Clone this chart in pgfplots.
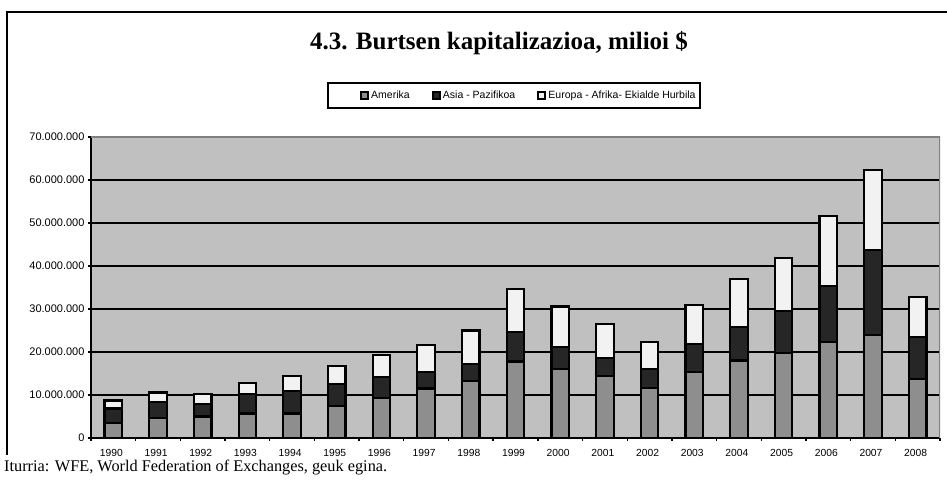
\documentclass[border=0pt]{standalone}
\usepackage{fontspec}
\setmainfont{Liberation Sans}
\newfontfamily\timesfont{Liberation Serif}
\usepackage{pgfplots}
\usepackage{pgfplotstable}
\pgfplotsset{compat=1.18}

\definecolor{plotbg}{HTML}{C0C0C0}
\definecolor{amer}{HTML}{8E8E8E}
\definecolor{asia}{HTML}{262626}
\definecolor{euro}{HTML}{F2F2F2}

\newcommand\yr[1]{\fontsize{10.3}{12}\selectfont #1}

% legend-ikurra, lehenengoak ezkerrean tarte handiagoa du
\pgfplotsset{
    padlegend/.style={
        legend image code/.code={
            \path (-30pt,0pt);
            \draw[##1, draw=black, line width=2.2pt] (0pt,-3.5pt) rectangle (7pt,3.5pt);
        }
    }
}

% milioi $ -- Amerika, Asia-Pazifikoa, Europa-Afrika-Ekialde Hurbila
\pgfplotstableread{
idx year amerika asia europa
0  1990 3500000  3350000  1850000
1  1991 4600000  3700000  2300000
2  1992 5000000  2900000  2300000
3  1993 5700000  4500000  2600000
4  1994 5700000  5300000  3400000
5  1995 7500000  5100000  4100000
6  1996 9300000  4900000  5100000
7  1997 11500000 3800000  6300000
8  1998 13300000 3900000  7800000
9  1999 17800000 6900000  10000000
10 2000 16000000 5100000  9500000
11 2001 14500000 4100000  7900000
12 2002 11600000 4500000  6200000
13 2003 15300000 6600000  9100000
14 2004 18000000 7800000  11200000
15 2005 19800000 9800000  12300000
16 2006 22300000 13000000 16300000
17 2007 23900000 19900000 18600000
18 2008 13700000 9800000  9300000
}\capdata

\begin{document}
\begin{tikzpicture}
    \path[use as bounding box] (0pt,0pt) rectangle (947pt,481pt);
    % kanpoko markoa
    \draw[line width=1.8pt] (7pt,26pt) -- (7pt,469pt) -- (947pt,469pt);
    \node[anchor=base, font=\timesfont\bfseries\fontsize{25}{28}\selectfont]
        at (499pt,431pt) {4.3. Burtsen kapitalizazioa, milioi \$};
    \node[anchor=base west, inner sep=0pt, font=\timesfont\fontsize{16.3}{18}\selectfont]
        at (4pt,9pt) {Iturria: WFE, World Federation of Exchanges, geuk egina.};
    \begin{axis}[
        at={(91pt,43pt)}, anchor=south west,
        scale only axis,
        width=849pt, height=301pt,
        %
        ybar stacked,
        bar width=17.5pt,
        %
        xmin=-0.5, xmax=18.5,
        ymin=0, ymax=70000000,
        ytick distance=10000000,
        scaled y ticks=false,
        %
        xtick={0,...,18},
        xticklabels={\yr{1990},\yr{1991},\yr{1992},\yr{1993},\yr{1994},
            \yr{1995},\yr{1996},\yr{1997},\yr{1998},\yr{1999},\yr{2000},
            \yr{2001},\yr{2002},\yr{2003},\yr{2004},\yr{2005},\yr{2006},
            \yr{2007},\yr{2008}},
        minor xtick={-0.5,0.5,...,18.5},
        major x tick style={draw=none},
        minor tick length=3pt,
        major tick length=3pt,
        tick align=outside,
        tick style={black, line width=1.4pt},
        %
        axis x line*=bottom,
        axis y line*=left,
        axis line style={black, line width=2.2pt},
        axis background/.style={fill=plotbg},
        %
        ymajorgrids=true,
        grid style={black, line width=2pt},
        %
        xticklabel style={yshift=-5pt, xshift=-2pt},
        yticklabel={\fontsize{11}{12}\selectfont
            \pgfmathprintnumber[fixed, 1000 sep={.}, assume math mode=true]{\tick}},
        %
        legend columns=3,
        legend style={
            at={(axis description cs:0.278,1.1827)},
            anchor=north west,
            draw=black, line width=2pt,
            font=\fontsize{10.5}{12}\selectfont,
            inner ysep=6pt, inner xsep=2pt,
            /tikz/every even column/.append style={column sep=20pt}
        },
        legend image code/.code={
            \draw[#1, draw=black, line width=2.2pt] (0pt,-3.5pt) rectangle (7pt,3.5pt);
        },
    ]
    \addplot[fill=amer, draw=black, line width=2.2pt, padlegend]
        table[x=idx, y=amerika] {\capdata};
    \addplot[fill=asia, draw=black, line width=2.2pt]
        table[x=idx, y=asia] {\capdata};
    \addplot[fill=euro, draw=black, line width=2.2pt]
        table[x=idx, y=europa] {\capdata};
    \legend{Amerika, Asia - Pazifikoa, Europa - Afrika- Ekialde Hurbila}
    %
    % goiko eta eskuineko ertz grisak
    \draw[gray, line width=2.6pt]
        (rel axis cs:0,1) -- (rel axis cs:1,1) -- (rel axis cs:1,0);
    \end{axis}
\end{tikzpicture}
\end{document}
